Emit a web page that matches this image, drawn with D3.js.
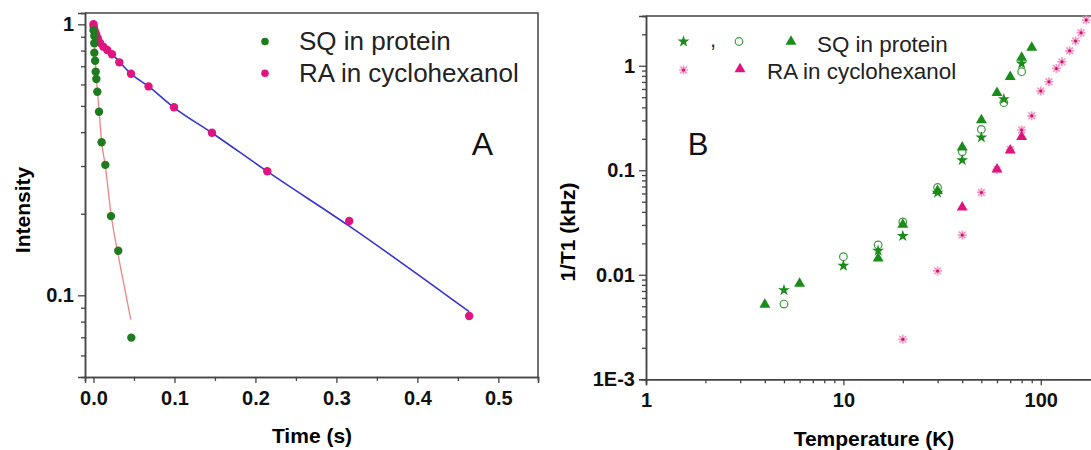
<!DOCTYPE html>
<html>
<head>
<meta charset="utf-8">
<script src="https://cdn.jsdelivr.net/npm/d3@7"></script>
<style>
  body { margin: 0; background: #fff; }
  svg { display: block; font-family: "Liberation Sans", Arial, sans-serif; }
</style>
</head>
<body>
<div id="chart"></div>
<script>
// --- Panel A data: intensity decay ---
const sqTime = [0.0, 0.001, 0.001, 0.001, 0.002, 0.0027, 0.0035, 0.0047, 0.0068, 0.010, 0.0146, 0.0216, 0.0306, 0.0467];
const sqInt  = [0.95, 0.905, 0.851, 0.786, 0.734, 0.668, 0.628, 0.564, 0.476, 0.367, 0.303, 0.196, 0.146, 0.0698];
const raTime = [0.0, 0.0002, 0.001, 0.0022, 0.0035, 0.0052, 0.008, 0.0121, 0.017, 0.0228, 0.0319, 0.0463, 0.068, 0.0994, 0.1463, 0.2146, 0.3158, 0.464];
const raInt  = [1.0, 0.98, 0.958, 0.934, 0.913, 0.888, 0.855, 0.827, 0.804, 0.775, 0.724, 0.657, 0.590, 0.494, 0.398, 0.287, 0.188, 0.0839];
// fit curves
const sqFitTime = [0.0, 0.001, 0.002, 0.0035, 0.005, 0.007, 0.010, 0.0146, 0.0216, 0.0306, 0.038, 0.046];
const sqFitInt  = [1.0, 0.88, 0.76, 0.64, 0.56, 0.475, 0.37, 0.30, 0.20, 0.14, 0.108, 0.0815];
const raFitTime = [0.006, 0.012, 0.023, 0.046, 0.068, 0.099, 0.146, 0.215, 0.316, 0.464];
const raFitInt  = [0.85, 0.823, 0.775, 0.658, 0.590, 0.494, 0.398, 0.286, 0.180, 0.087];
const xTicksA = [0, 0.1, 0.2, 0.3, 0.4, 0.5];

// --- Panel B data: 1/T1 vs temperature ---
const sqStarT = [5, 10, 15, 20, 30, 40, 50, 65, 80];
const sqStarV = [0.00714, 0.0122, 0.017, 0.0235, 0.061, 0.125, 0.206, 0.48, 1.05];
const sqCircT = [5, 10, 15, 20, 30, 40, 50, 65, 80];
const sqCircV = [0.00525, 0.0149, 0.0193, 0.0321, 0.0686, 0.150, 0.246, 0.443, 0.877];
const sqTriT  = [4, 6, 15, 20, 30, 40, 50, 60, 70, 80, 90];
const sqTriV  = [0.0052, 0.00826, 0.01435, 0.0303, 0.0636, 0.166, 0.302, 0.552, 0.785, 1.20, 1.49];
const raAstT  = [20, 30, 40, 50, 60, 70, 80, 90, 100, 110, 120, 128, 140, 150, 160, 170];
const raAstV  = [0.00241, 0.0109, 0.024, 0.0614, 0.102, 0.158, 0.243, 0.332, 0.573, 0.703, 0.944, 1.09, 1.39, 1.73, 2.07, 2.74];
const raTriT  = [40, 60, 70, 80];
const raTriV  = [0.0442, 0.102, 0.155, 0.209];
const yTicksB = [0.001, 0.01, 0.1, 1];
const yTickLabelsB = ["1E-3", "0.01", "0.1", "1"];
const xTicksB = [1, 10, 100];

const green = "#1e7b1e", greenB = "#1a8c1a", pink = "#e0147f", pinkLight = "#f49ac6";
const blue = "#3535d2", salmon = "#f08484", frame = "#444";

const svg = d3.select("#chart").append("svg")
  .attr("width", 1091)
  .attr("height", 450);

const zip = (a, b) => a.map((v, i) => [v, b[i]]);

// ================= PANEL A =================
const xA = d3.scaleLinear().domain([-0.0105, 0.549]).range([85, 538]);
const yA = d3.scaleLog().domain([0.05, 1.1]).range([376.9, 13.1]);

const minorA = [];
for (let v = 0.06; v < 0.095; v += 0.01) minorA.push(+v.toFixed(2));
for (let v = 0.2; v < 0.95; v += 0.1) minorA.push(+v.toFixed(1));

svg.append("g").attr("transform", "translate(85,0)")
  .call(d3.axisLeft(yA).tickValues([0.1, 1]).tickFormat(d => d === 1 ? "1" : "0.1").tickSize(7).tickPadding(4));
svg.append("g").attr("transform", "translate(85,0)")
  .call(d3.axisLeft(yA).tickValues(minorA).tickFormat("").tickSize(4));

svg.append("g").attr("transform", "translate(0,376.9)")
  .call(d3.axisBottom(xA).tickValues(xTicksA).tickFormat(d3.format(".1f")).tickSize(6).tickPadding(8));
svg.append("g").attr("transform", "translate(0,376.9)")
  .call(d3.axisBottom(xA).tickValues([0.05, 0.15, 0.25, 0.35, 0.45]).tickFormat("").tickSize(4));

// frame top/right
svg.append("path")
  .attr("d", `M85,13.1H538V376.9`)
  .attr("fill", "none").attr("stroke", frame).attr("stroke-width", 1.5);

// fits
const lineA = d3.line().x(d => xA(d[0])).y(d => yA(d[1])).curve(d3.curveMonotoneX);
svg.append("path").datum(zip(sqFitTime, sqFitInt))
  .attr("d", lineA)
  .attr("fill", "none").attr("stroke", salmon).attr("stroke-width", 1.3);
svg.append("path").datum(zip(raFitTime, raFitInt))
  .attr("d", lineA)
  .attr("fill", "none").attr("stroke", blue).attr("stroke-width", 1.6);

svg.append("g").selectAll("circle").data(zip(raTime, raInt)).enter().append("circle")
  .attr("cx", d => xA(d[0])).attr("cy", d => yA(d[1])).attr("r", 4.2).attr("fill", pink);
svg.append("g").selectAll("circle").data(zip(sqTime, sqInt)).enter().append("circle")
  .attr("cx", d => xA(d[0])).attr("cy", d => yA(d[1])).attr("r", 4.2).attr("fill", green);

// legend A
svg.append("circle").attr("cx", 265).attr("cy", 41.5).attr("r", 3.8).attr("fill", green);
svg.append("circle").attr("cx", 265).attr("cy", 73.3).attr("r", 3.8).attr("fill", pink);
svg.append("text").attr("x", 299).attr("y", 50).style("font-size", "26px").attr("fill", "#222").text("SQ in protein");
svg.append("text").attr("x", 299).attr("y", 81.7).style("font-size", "26px").attr("fill", "#222").text("RA in cyclohexanol");
svg.append("text").attr("x", 482.5).attr("y", 155).attr("text-anchor", "middle").style("font-size", "32px").attr("fill", "#111").text("A");

// Axis titles A
svg.append("text").attr("x", 312).attr("y", 443).attr("text-anchor", "middle")
  .style("font-size", "21px").style("font-weight", "bold").text("Time (s)");
svg.append("text").attr("transform", "translate(30,210) rotate(-90)").attr("text-anchor", "middle")
  .style("font-size", "21px").style("font-weight", "bold").text("Intensity");

// ================= PANEL B =================
const xB = d3.scaleLog().domain([1, 200]).range([646, 1100.2]);
const yB = d3.scaleLog().domain([0.001, 3]).range([379.3, 15.9]);

const minorYB = [];
[0.001, 0.01, 0.1].forEach(b => { for (let k = 2; k <= 9; k++) minorYB.push(b * k); });
minorYB.push(2, 3);
const minorXB = [];
[1, 10].forEach(b => { for (let k = 2; k <= 9; k++) minorXB.push(b * k); });
minorXB.push(200);

svg.append("g").attr("transform", "translate(646,0)")
  .call(d3.axisLeft(yB).tickValues(yTicksB).tickFormat((d, i) => yTickLabelsB[i]).tickSize(7).tickPadding(4));
svg.append("g").attr("transform", "translate(646,0)")
  .call(d3.axisLeft(yB).tickValues(minorYB).tickFormat("").tickSize(4));
svg.append("g").attr("transform", "translate(0,379.3)")
  .call(d3.axisBottom(xB).tickValues(xTicksB).tickFormat(d3.format("d")).tickSize(6).tickPadding(8));
svg.append("g").attr("transform", "translate(0,379.3)")
  .call(d3.axisBottom(xB).tickValues(minorXB).tickFormat("").tickSize(4));

svg.append("path").attr("d", "M646,15.9H1100")
  .attr("fill", "none").attr("stroke", frame).attr("stroke-width", 1.5);

const star = d3.symbol().type(d3.symbolStar).size(44);
const tri = d3.symbol().type(d3.symbolTriangle).size(52);

function drawAsterisk(g, x, y) {
  const s = 4.5;
  g.append("path")
    .attr("d", `M${x - s},${y}H${x + s}M${x},${y - s}V${y + s}M${x - s * 0.75},${y - s * 0.75}L${x + s * 0.75},${y + s * 0.75}M${x - s * 0.75},${y + s * 0.75}L${x + s * 0.75},${y - s * 0.75}`)
    .attr("stroke", pinkLight).attr("stroke-width", 1.7).attr("fill", "none");
  g.append("circle").attr("cx", x).attr("cy", y).attr("r", 1.5).attr("fill", "#c8106e");
}

const gB = svg.append("g");
zip(raAstT, raAstV).forEach(d => drawAsterisk(gB, xB(d[0]), yB(d[1])));
gB.selectAll(".rtri").data(zip(raTriT, raTriV)).enter().append("path")
  .attr("transform", d => `translate(${xB(d[0])},${yB(d[1])})`).attr("d", tri).attr("fill", pink);
gB.selectAll(".circ").data(zip(sqCircT, sqCircV)).enter().append("circle")
  .attr("cx", d => xB(d[0])).attr("cy", d => yB(d[1])).attr("r", 3.8)
  .attr("fill", "none").attr("stroke", "#3c9a3c").attr("stroke-width", 1.2);
gB.selectAll(".gtri").data(zip(sqTriT, sqTriV)).enter().append("path")
  .attr("transform", d => `translate(${xB(d[0])},${yB(d[1])})`).attr("d", tri).attr("fill", greenB);
gB.selectAll(".star").data(zip(sqStarT, sqStarV)).enter().append("path")
  .attr("transform", d => `translate(${xB(d[0])},${yB(d[1])})`).attr("d", star).attr("fill", greenB);

// legend B
svg.append("path").attr("transform", "translate(683.5,41.5)").attr("d", star).attr("fill", greenB);
svg.append("text").attr("x", 710).attr("y", 47).style("font-size", "22px").attr("fill", "#333").text(",");
svg.append("circle").attr("cx", 739).attr("cy", 41.5).attr("r", 3.8)
  .attr("fill", "none").attr("stroke", "#3c9a3c").attr("stroke-width", 1.2);
svg.append("path").attr("transform", "translate(791,41.5)").attr("d", tri).attr("fill", greenB);
drawAsterisk(svg, 683.5, 70);
svg.append("path").attr("transform", "translate(740,69)").attr("d", tri).attr("fill", pink);
svg.append("text").attr("x", 817).attr("y", 51.5).style("font-size", "22.4px").attr("fill", "#222").text("SQ in protein");
svg.append("text").attr("x", 767).attr("y", 78.5).style("font-size", "22.4px").attr("fill", "#222").text("RA in cyclohexanol");
svg.append("text").attr("x", 698).attr("y", 155).attr("text-anchor", "middle").style("font-size", "31px").attr("fill", "#111").text("B");

svg.append("text").attr("x", 874).attr("y", 446).attr("text-anchor", "middle")
  .style("font-size", "21px").style("font-weight", "bold").text("Temperature (K)");
svg.append("text").attr("transform", "translate(575,232) rotate(-90)").attr("text-anchor", "middle")
  .style("font-size", "21px").style("font-weight", "bold").text("1/T1 (kHz)");

// axis styling
svg.selectAll(".domain").attr("stroke", frame).attr("stroke-width", 1.5);
svg.selectAll(".tick line").attr("stroke", frame).attr("stroke-width", 1.3);
svg.selectAll(".tick text").style("font-size", "20px").style("font-weight", "bold")
  .style("font-family", "'Liberation Sans', Arial, sans-serif").attr("fill", "#111");
</script>
</body>
</html>
